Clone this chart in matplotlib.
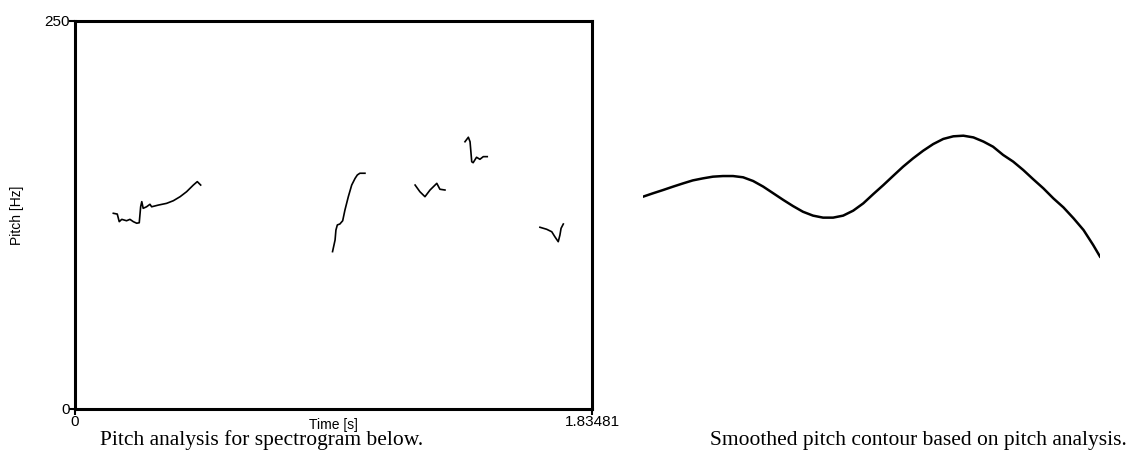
import matplotlib
matplotlib.use("Agg")
import matplotlib.pyplot as plt

# pitch analysis segments (time in s, pitch in Hz)
seg1_t = [0.136, 0.150, 0.157, 0.166, 0.183, 0.195, 0.207, 0.219, 0.228, 0.233, 0.237, 0.242,
          0.254, 0.266, 0.272, 0.296, 0.325, 0.349, 0.373, 0.396, 0.420, 0.434, 0.446]
seg1_hz = [126.1, 125.6, 120.7, 122.2, 121.3, 122.2, 120.7, 119.7, 120.0, 130.3, 133.6, 129.3,
           130.3, 131.9, 130.3, 131.4, 132.5, 134.2, 136.8, 140.0, 144.3, 146.5, 144.3]
seg2_t = [0.914, 0.923, 0.926, 0.931, 0.940, 0.950, 0.958, 0.970, 0.982, 0.994, 1.002, 1.011, 1.029]
seg2_hz = [101.4, 108.9, 115.3, 118.6, 119.2, 121.3, 128.2, 136.8, 144.3, 148.6, 150.8, 151.9, 151.9]
seg3_t = [1.207, 1.224, 1.242, 1.260, 1.284, 1.295, 1.313]
seg3_hz = [144.3, 140.0, 136.8, 141.1, 145.4, 141.6, 141.1]
seg4_t = [1.384, 1.396, 1.402, 1.408, 1.413, 1.425, 1.437, 1.449, 1.463]
seg4_hz = [172.2, 175.1, 172.2, 159.3, 158.7, 162.2, 160.9, 162.6, 162.6]
seg5_t = [1.650, 1.674, 1.692, 1.703, 1.715, 1.721, 1.725, 1.733]
seg5_hz = [117.1, 115.8, 114.2, 111.0, 107.8, 112.1, 116.4, 119.2]
segments = [(seg1_t, seg1_hz), (seg2_t, seg2_hz), (seg3_t, seg3_hz), (seg4_t, seg4_hz), (seg5_t, seg5_hz)]

t_max = 1.83481
hz_max = 250

# smoothed contour (normalised time, pitch in Hz)
smooth_t = [0, .022, .044, .066, .088, .109, .131, .153, .175, .197, .219, .241, .263, .285,
            .307, .328, .350, .372, .394, .416, .438, .460, .482, .504, .526, .547, .569, .591,
            .613, .635, .657, .679, .701, .723, .745, .766, .788, .810, .832, .854, .876, .898,
            .920, .942, .964, .985, 1.0]
smooth_hz = [136.8, 139.0, 141.1, 143.3, 145.4, 147.3, 148.6, 149.7, 150.1, 150.1, 149.3, 146.9,
             143.3, 139.0, 134.7, 130.8, 127.1, 124.6, 123.3, 123.3, 124.6, 127.8, 132.5, 138.5,
             144.3, 150.1, 156.1, 161.5, 166.4, 170.7, 174.0, 175.7, 176.1, 175.0, 172.3, 169.0,
             163.7, 159.4, 154.0, 148.0, 142.2, 135.7, 129.9, 122.9, 115.3, 105.7, 98.2]

sans = ["Liberation Sans Narrow", "Liberation Sans"]

fig = plt.figure(figsize=(11.37, 4.58), dpi=100)

ax = fig.add_axes([75/1137, 1-409/458, 517/1137, 388/458])
for t, hz in segments:
    ax.plot(t, hz, color="black", lw=1.2)
ax.set_xlim(0, t_max)
ax.set_ylim(0, hz_max)
ax.set_xticks([0, t_max])
ax.set_xticklabels(["0", "1.83481"])
ax.set_yticks([0, hz_max])
ax.set_yticklabels(["0", "250"])
for s in ax.spines.values():
    s.set_linewidth(2.2)
ax.tick_params(length=4, width=1.5, labelsize=11, pad=0)
for lab in ax.get_xticklabels() + ax.get_yticklabels():
    lab.set_family(sans)

fig.text(333/1137, 1-425/458, "Time [s]", ha="center", va="center", fontsize=10, family=sans)
fig.text(17/1137, 1-215/458, "Pitch [Hz]", ha="center", va="center", rotation=90,
         fontsize=10, family=sans)

ax2 = fig.add_axes([643/1137, 1-409/458, 457/1137, 388/458])
ax2.plot(smooth_t, smooth_hz, color="black", lw=1.8, solid_joinstyle="round")
ax2.set_xlim(0, 1)
ax2.set_ylim(0, hz_max)
ax2.axis("off")

fig.text(262/1137, 1-440/458, "Pitch analysis for spectrogram below.", ha="center", va="center",
         fontsize=15.5, family="Liberation Serif")
fig.text(918/1137, 1-440/458, "Smoothed pitch contour based on pitch analysis.", ha="center", va="center",
         fontsize=15.5, family="Liberation Serif")

fig.savefig("out.png", dpi=100)
